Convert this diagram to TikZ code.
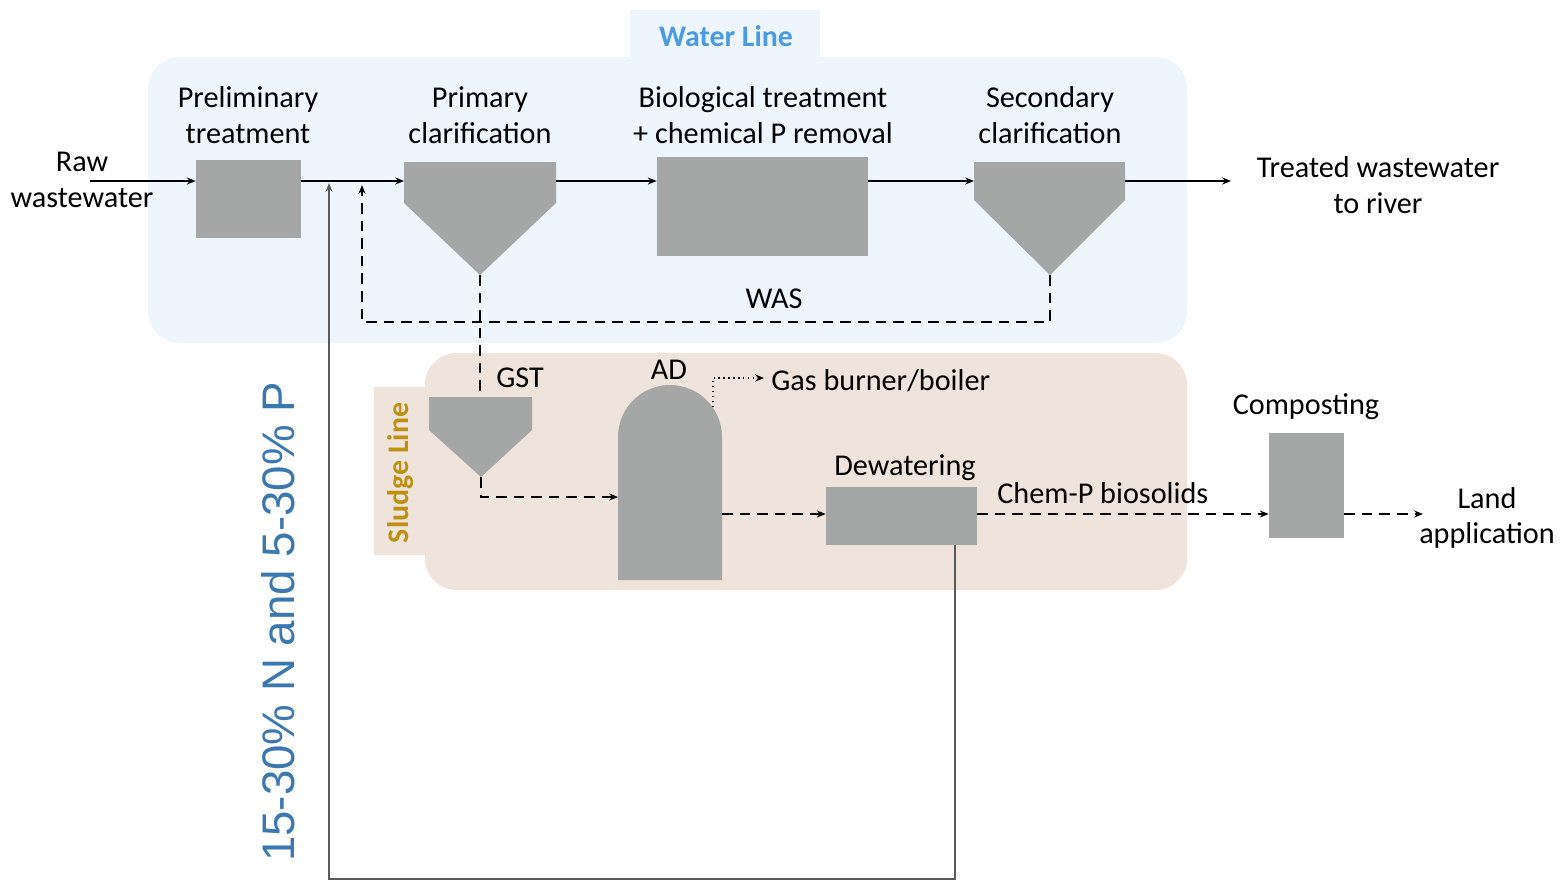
\documentclass[tikz,border=0pt]{standalone}
\usepackage{fontspec}
\setmainfont{Carlito}
\newfontfamily\pctfont{Liberation Sans}
\usetikzlibrary{arrows.meta}
\definecolor{waterbg}{HTML}{EEF5FC}
\definecolor{sludgebg}{HTML}{EFE4DC}
\definecolor{unitgray}{HTML}{A5A7A6}
\definecolor{watertxt}{HTML}{4A9BE4}
\definecolor{sludgetxt}{HTML}{C09010}
\definecolor{pcttxt}{HTML}{3C78B0}
\definecolor{returngray}{HTML}{5A5A5A}
\tikzset{
  x=0.02cm, y=-0.02cm,
  unit/.style={fill=unitgray, draw=none, inner sep=0pt, minimum width=0pt, minimum height=0pt},
  lbl/.style={font=\fontsize{17.2}{20.4}\selectfont, align=center, inner sep=0pt, text=black},
  flow/.style={draw=black, line width=0.8pt, -{Stealth[length=5pt,width=4pt]}},
  sflow/.style={flow, dashed, dash pattern=on 6pt off 4pt},
  dflow/.style={flow, dotted, line width=0.7pt},
  retline/.style={draw=returngray, line width=1pt},
}
\begin{document}
\begin{tikzpicture}
\useasboundingbox (0,0) rectangle (1560,880);

% process line backgrounds
\fill[waterbg] (630,10) rectangle (820,60);
\fill[waterbg, rounded corners=18pt] (148,57) rectangle (1187,343);
\node[font=\bfseries\fontsize{17}{20}\selectfont, text=watertxt] (wtitle) at (726,36) {Water Line};

\fill[sludgebg] (374,387) rectangle (440,555);
\fill[sludgebg, rounded corners=18pt] (425,353) rectangle (1187,590);
\node[font=\bfseries\fontsize{17}{20}\selectfont, text=sludgetxt, rotate=90] (stitle) at (401,473) {Sludge Line};

% treatment units
\node[unit, minimum width=2.1cm, minimum height=1.56cm] (prelim) at (248.5,199) {};
\fill[unitgray] (404,162) -- (556,162) -- (556,203) -- (480,275) -- (404,203) -- cycle;
\coordinate (pcL) at (404,181);
\coordinate (pcR) at (556,181);
\coordinate (pcTip) at (480,275);
\node[unit, minimum width=4.22cm, minimum height=1.98cm] (bio) at (762.5,206.5) {};
\fill[unitgray] (974,162) -- (1125,162) -- (1125,200) -- (1050,275) -- (974,200) -- cycle;
\coordinate (scL) at (974,181);
\coordinate (scR) at (1125,181);
\coordinate (scTip) at (1050,275);

\fill[unitgray] (429,397) -- (532,397) -- (532,430) -- (481,477) -- (429,430) -- cycle;
\coordinate (gstTop) at (480,397);
\coordinate (gstTip) at (481,477);
\fill[unitgray] (618,580) -- (618,437) arc[start angle=180, end angle=360, radius=52] -- (722,580) -- cycle;
\coordinate (adL) at (618,497);
\coordinate (adR) at (722,514);
\coordinate (adGas) at (713,407);
\node[unit, minimum width=3.02cm, minimum height=1.16cm] (dew) at (901.5,516) {};
\node[unit, minimum width=1.5cm, minimum height=2.1cm] (comp) at (1306.5,485.5) {};

% labels
\node[lbl] (raw) at (82,180) {Raw\\wastewater};
\node[lbl] (lprelim) at (248,115) {Preliminary\\treatment};
\node[lbl] (lprim) at (480,115) {Primary\\clarification};
\node[lbl] (lbio) at (763,115) {Biological treatment\\+ chemical P removal};
\node[lbl] (lsec) at (1050,115) {Secondary\\clarification};
\node[lbl] (river) at (1378,185) {Treated wastewater\\to river};
\node[lbl] (was) at (774,299) {WAS};
\node[lbl] (gst) at (520,378) {GST};
\node[lbl] (ad) at (669,370) {AD};
\node[lbl, anchor=west] (gas) at (771,381) {Gas burner/boiler};
\node[lbl] (ldew) at (905,468) {Dewatering};
\node[lbl, anchor=west] (chemp) at (997,493) {Chem-P biosolids};
\node[lbl] (lcomp) at (1306,407) {Composting};
\node[lbl] (land) at (1487,518) {Land\\application};
\node[font=\pctfont\fontsize{26}{30}\selectfont, text=pcttxt, rotate=90] (pct) at (278,622) {15-30\% N and 5-30\% P};

% main water flow
\coordinate (rawEnd) at (90,181);
\draw[flow] (rawEnd) -- (rawEnd -| prelim.west);
\draw[flow] (prelim.east |- pcL) -- (pcL);
\draw[flow] (pcR) -- (bio.west |- pcR);
\draw[flow] (bio.east |- scL) -- (scL);
\coordinate (outEnd) at (1231,181);
\draw[flow] (scR) -- (outEnd);

% return flow from dewatering
\coordinate (retIn) at (329,183);
\draw[retline, -{Stealth[length=5pt,width=4pt]}] (dew.south -| 955,0) -- (955,879) -- (329,879) -- (retIn);

% waste activated sludge
\coordinate (wasIn) at (362,185);
\draw[sflow] (scTip) -- (1050,322) -- (362,322) -- (wasIn);

% sludge line
\draw[draw=black, line width=0.8pt, dashed, dash pattern=on 6pt off 4pt] (pcTip) -- (gstTop);
\draw[sflow] (gstTip) -- (481,497) -- (adL);
\coordinate (gasEnd) at (764,378);
\draw[dflow] (adGas) -- (713,378) -- (gasEnd);
\draw[sflow] (adR) -- (dew.west |- adR);
\draw[sflow] (dew.east |- adR) -- (comp.west |- adR);
\coordinate (landEnd) at (1423,514);
\draw[sflow] (comp.east |- adR) -- (landEnd);
\end{tikzpicture}
\end{document}
